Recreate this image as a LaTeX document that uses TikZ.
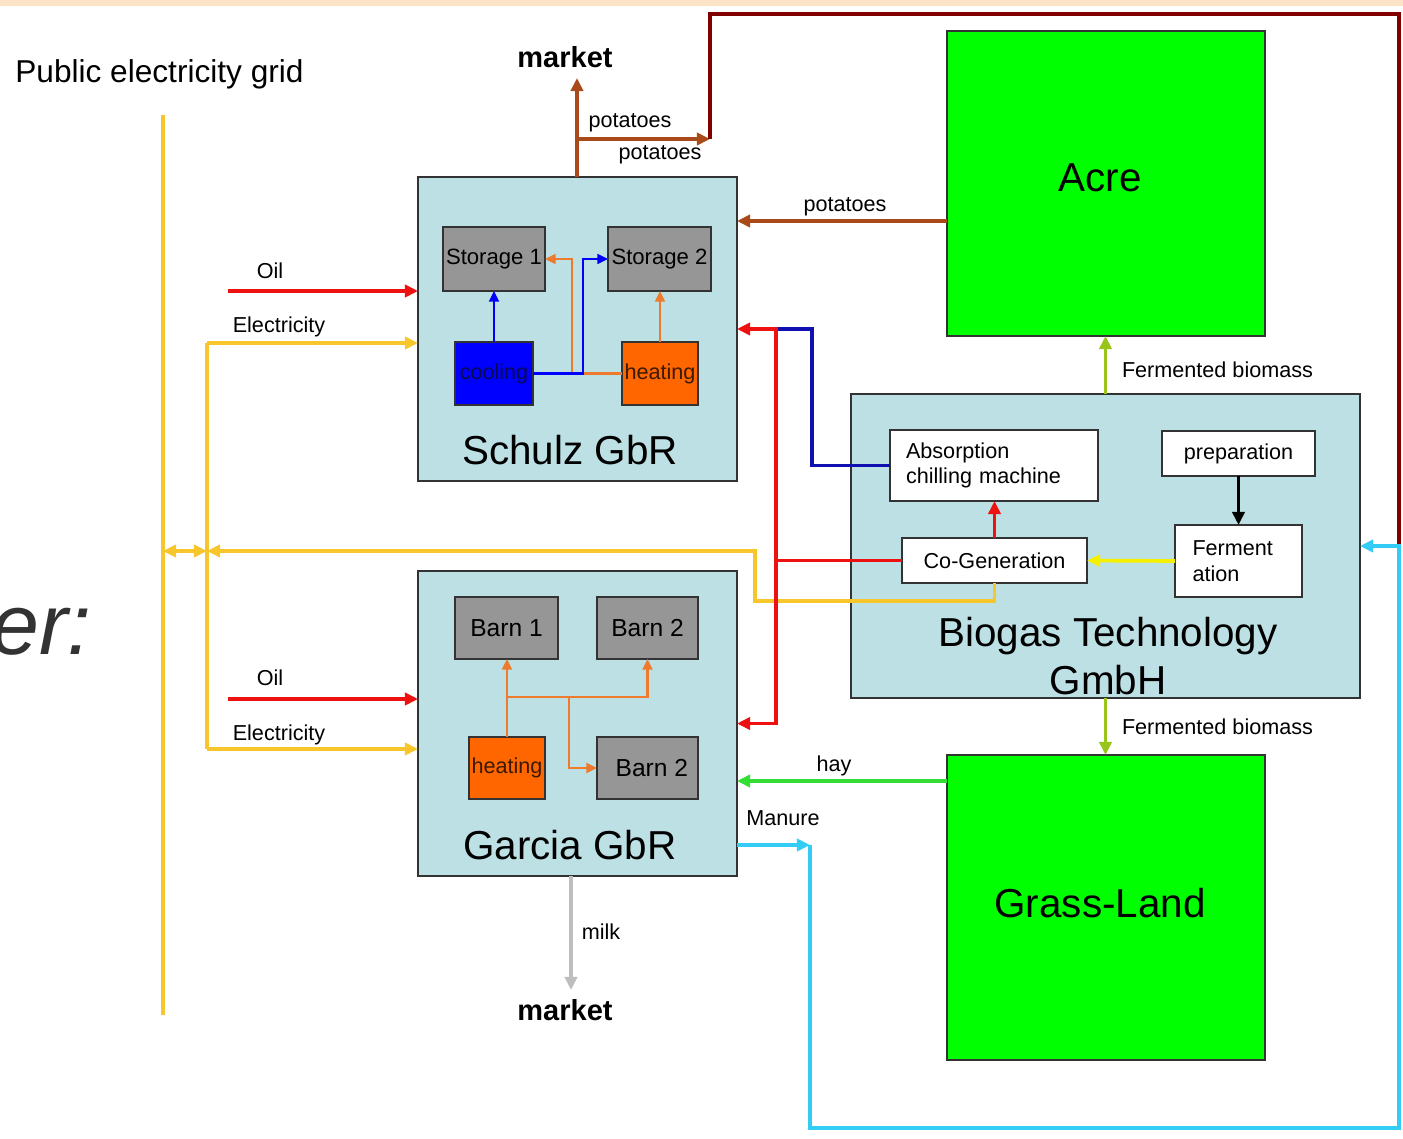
\documentclass[tikz,border=0pt]{standalone}
\usepackage{fontspec}
\setmainfont{Liberation Sans}
\usetikzlibrary{arrows.meta}
\definecolor{boxblue}{HTML}{BCE0E4}
\definecolor{grayfill}{HTML}{969696}
\definecolor{fieldgreen}{HTML}{00FF00}
\definecolor{coolblue}{HTML}{0000FF}
\definecolor{heatorange}{HTML}{FF6600}
\definecolor{innerorange}{HTML}{EE7A2E}
\definecolor{redflow}{HTML}{EE1111}
\definecolor{gold}{HTML}{F7C52C}
\definecolor{brownflow}{HTML}{A84A1A}
\definecolor{darkredflow}{HTML}{800000}
\definecolor{olive}{HTML}{99C41A}
\definecolor{haygreen}{HTML}{33DD33}
\definecolor{cyanflow}{HTML}{33CCF5}
\definecolor{milkgray}{HTML}{BEBEBE}
\definecolor{absblue}{HTML}{1010B0}
\definecolor{brightyellow}{HTML}{F5F000}
\definecolor{peach}{HTML}{FBE3C8}
\definecolor{ergray}{HTML}{333333}
\definecolor{navytext}{HTML}{0A0A50}
\definecolor{heattext}{HTML}{3A1A00}
\tikzset{
  box/.style={draw=black!80, line width=1pt, inner sep=0pt, outer sep=0pt},
  farm/.style={box, fill=boxblue},
  field/.style={box, fill=fieldgreen},
  grayb/.style={box, fill=grayfill},
  whiteb/.style={box, fill=white},
  sz/.style 2 args={minimum width=#1*0.02cm, minimum height=#2*0.02cm},
  smallfont/.style={font=\fontsize{12.3}{14.5}\selectfont},
  midfont/.style={font=\fontsize{12.6}{15}\selectfont},
  barnfont/.style={font=\fontsize{14}{16}\selectfont},
  bigfont/.style={font=\fontsize{23}{27.5}\selectfont},
  lbl/.style={inner sep=0pt, outer sep=0pt, smallfont},
  flow/.style={line width=2.1pt},
  thin flow/.style={line width=1.3pt},
  tip/.style={-{Triangle[length=7.5pt,width=7pt]}},
  small tip/.style={-{Triangle[length=6pt,width=5.5pt]}},
}
\begin{document}
\begin{tikzpicture}[x=0.02cm,y=-0.02cm]
\useasboundingbox (0,0) rectangle (1403,1139);
\fill[peach] (0,0) rectangle (1403,6);

% ---------- main boxes ----------
\node[farm, sz={319}{304}] (schulz) at (577.5,329) {};
\node[farm, sz={319}{305}] (garcia) at (577.5,723.5) {};
\node[farm, sz={509}{304}] (biogas) at (1105.5,546) {};
\node[field, sz={318}{305}] (acre) at (1106,183.5) {};
\node[field, sz={318}{305}] (grass) at (1106,907.5) {};
\node[bigfont, inner sep=0pt] (acrelbl) at (1100,178) {Acre};
\node[bigfont, inner sep=0pt] (grasslbl) at (1100,903) {Grass-Land};

% ---------- Schulz inner ----------
\node[grayb, sz={102}{64}, midfont] (st1) at (494,259) {Storage 1};
\node[grayb, sz={103}{64}, midfont] (st2) at (659.5,259) {Storage 2};
\node[box, fill=coolblue, sz={78}{63}, smallfont, text=navytext] (cool) at (494,373.5) {cooling};
\node[box, fill=heatorange, sz={76}{63}, smallfont, text=heattext] (heatS) at (660,373.5) {heating};
\node[bigfont, inner sep=0pt] (schulzlbl) at (570,450) {Schulz GbR};

% ---------- Garcia inner ----------
\node[grayb, sz={103}{62}, barnfont] (barn1) at (506.5,628) {Barn 1};
\node[grayb, sz={101}{62}, barnfont] (barn2a) at (647.5,628) {Barn 2};
\node[box, fill=heatorange, sz={76}{62}, smallfont, text=heattext] (heatG) at (507,768) {heating};
\node[grayb, sz={101}{62}, barnfont] (barn2b) at (647.5,768) {\hspace{5pt}Barn 2};
\node[bigfont, inner sep=0pt] (garcialbl) at (570,845) {Garcia GbR};

% ---------- Biogas inner ----------
\node[whiteb, sz={208}{71}, smallfont, align=left, text width=176*0.02cm] (abs) at (994,465.5) {Absorption\\chilling machine};
\node[whiteb, sz={153}{45}, smallfont] (prep) at (1238.5,453.5) {preparation};
\node[whiteb, sz={127}{72}, smallfont, align=left, text width=92*0.02cm] (ferm) at (1238.5,561) {Ferment\\ation};
\node[whiteb, sz={185}{45}, smallfont] (cogen) at (994.5,560.5) {Co-Generation};
\node[bigfont, inner sep=0pt, align=center] (biogaslbl) at (1108,656) {Biogas Technology\\GmbH};

% ---------- free texts ----------
\node[anchor=west, inner sep=0pt, font=\fontsize{18}{21}\selectfont] (grid) at (15,74) {Public electricity grid};
\node[inner sep=0pt, font=\fontsize{16.5}{20}\selectfont\bfseries] (market1) at (565,57) {market};
\node[inner sep=0pt, font=\fontsize{16.5}{20}\selectfont\bfseries] (market2) at (565,1010) {market};
\node[anchor=east, inner sep=0pt, text=ergray, font=\fontsize{49}{58}\selectfont\itshape] (er) at (92,632) {er:};

% ---------- helper coordinates ----------
\coordinate (b1t) at (163,115);
\coordinate (b1b) at (163,1015);
\coordinate (b2t) at (207,343);
\coordinate (b2b) at (207,749);
\coordinate (oil1) at (228,291);
\coordinate (oil2) at (228,699);
\coordinate (pbase) at (577,177);
\coordinate (ptip) at (577,78);
\coordinate (pj) at (577,139);
\coordinate (pt) at (710,139);
\coordinate (ptop) at (710,14);
\coordinate (rtop) at (1399,14);
\coordinate (rmid) at (1399,546);
\coordinate (acy) at (0,221);
\coordinate (rv) at (776,0);
\coordinate (bv) at (812,0);
\coordinate (yv) at (755,601);
\coordinate (yh) at (755,551);
\coordinate (hy) at (0,781);
\coordinate (my) at (0,845);
\coordinate (mc) at (810,845);
\coordinate (mbot) at (810,1128);
\coordinate (rbot) at (1399,1128);
\coordinate (mbase) at (571,876);
\coordinate (mtip) at (571,990);
\coordinate (gj) at (508,697);

% ---------- electricity grid ----------
\draw[flow, gold] (b1t) -- (b1b);
\draw[flow, gold] (b2t) -- (b2b);
\draw[flow, gold, tip] (b2t) -- (b2t -| schulz.west);
\draw[flow, gold, tip] (b2b) -- (b2b -| garcia.west);
\draw[flow, gold, {Triangle[length=7.5pt,width=7pt]}-{Triangle[length=7.5pt,width=7pt]}] (b1t |- yh) -- (b2t |- yh);
\draw[flow, gold, tip] (cogen.south) |- (yv) -- (yh) -- (b2t |- yh);

% ---------- oil ----------
\draw[flow, redflow, tip] (oil1) -- (oil1 -| schulz.west);
\draw[flow, redflow, tip] (oil2) -- (oil2 -| garcia.west);
\node[lbl] (oillbl1) at (270,271) {Oil};
\node[lbl] (oillbl2) at (270,678) {Oil};
\node[lbl] (ellbl1) at (279,327) {Electricity};
\node[lbl] (ellbl2) at (279,735) {Electricity};

% ---------- potatoes ----------
\draw[flow, brownflow, tip] (pbase) -- (ptip);
\draw[flow, brownflow, tip] (pj) -- (pt);
\draw[flow, darkredflow, line join=miter] (pt) -- (ptop) -- (rtop) -- (rmid);
\draw[flow, brownflow, tip] (acre.west |- acy) -- (schulz.east |- acy);
\node[lbl] (pot1) at (630,123) {potatoes};
\node[lbl] (pot2) at (660,155) {potatoes};
\node[lbl] (pot3) at (845,207) {potatoes};

% ---------- fermented biomass ----------
\draw[flow, olive, tip] (biogas.north) -- (biogas.north |- acre.south);
\draw[flow, olive, tip] (biogas.south) -- (biogas.south |- grass.north);
\node[lbl, anchor=west] (fb1) at (1122,370) {Fermented biomass};
\node[lbl, anchor=west] (fb2) at (1122,727) {Fermented biomass};

% ---------- biogas internal ----------
\draw[flow, black, tip] (prep.south) -- (prep.south |- ferm.north);
\draw[flow, brightyellow, tip] (ferm.west) -- (cogen.east);
\draw[flow, redflow, tip] (cogen.north) -- (cogen.north |- abs.south);

% ---------- heat / cold to farms ----------
\draw[flow, absblue] (abs.west) -| (bv |- schulz.east) -- (rv |- schulz.east);
\draw[flow, redflow, tip] (cogen.west) -- (cogen.west -| rv) |- (schulz.east);
\draw[flow, redflow, tip] (cogen.west -| rv) |- (garcia.east);

% ---------- hay / manure / milk ----------
\draw[flow, haygreen, tip] (grass.west |- hy) -- (garcia.east |- hy);
\node[lbl] (haylbl) at (834,766) {hay};
\draw[flow, cyanflow, tip] (garcia.east |- my) -- (mc);
\draw[flow, cyanflow, tip] (mc) -- (mbot) -- (rbot) -- (rmid) -- (biogas.east);
\node[lbl] (manlbl) at (783,818) {Manure};
\draw[flow, milkgray, tip] (mbase) -- (mtip);
\node[lbl] (milklbl) at (601,932) {milk};

% ---------- Schulz inner flows ----------
\draw[thin flow, coolblue, small tip] (cool.north) -- (st1.south);
\draw[thin flow, innerorange, small tip] (heatS.north) -- (heatS.north |- st2.south);
\draw[thin flow, innerorange, small tip] (heatS.west) -- ++(-50,0) |- (st1.east);
\draw[thin flow, coolblue, small tip] (cool.east) -- ++(50,0) |- (st2.west);

% ---------- Garcia inner flows ----------
\draw[thin flow, innerorange, small tip] (heatG.north) -- (heatG.north |- barn1.south);
\draw[thin flow, innerorange, small tip] (heatG.north |- gj) -| (barn2a.south);
\draw[thin flow, innerorange, small tip] (heatG.north |- gj) -- ++(62,0) |- (barn2b.west);
\end{tikzpicture}
\end{document}
